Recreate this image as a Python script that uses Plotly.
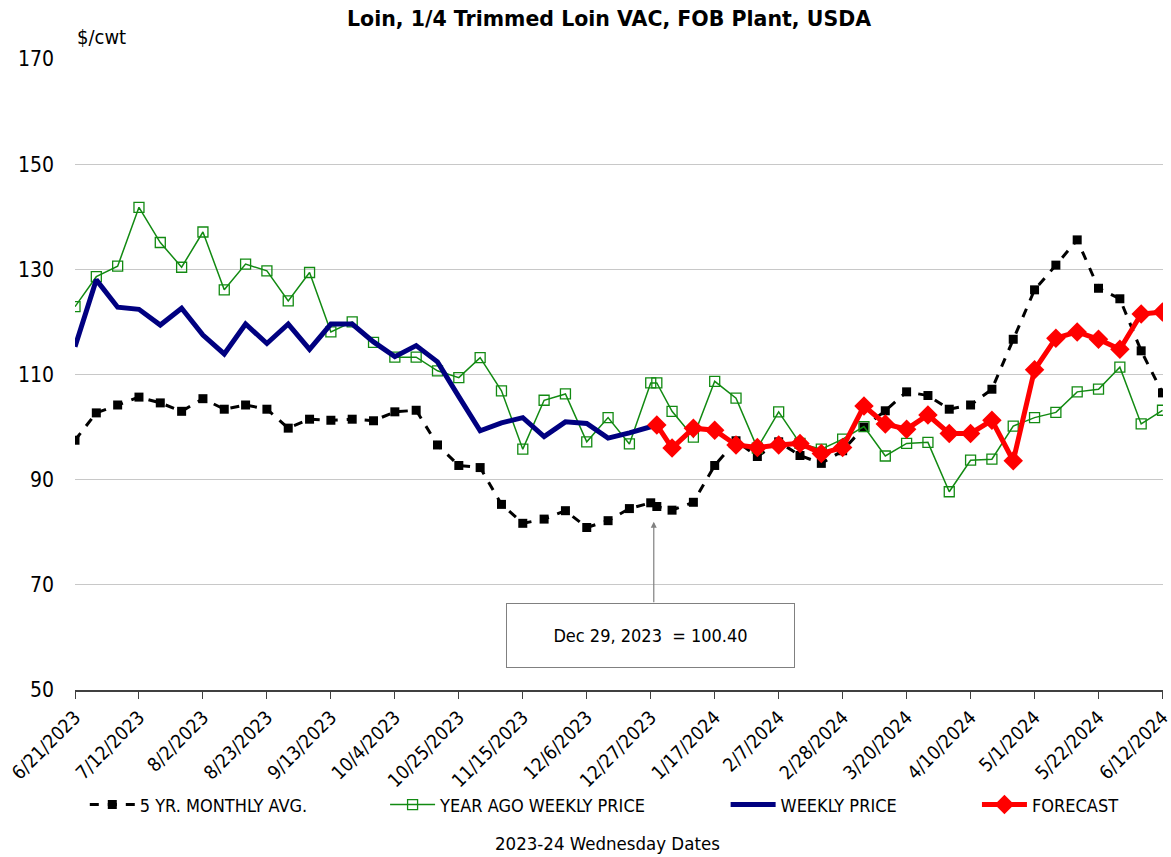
import plotly.graph_objects as go

# Wednesday dates (plus the Dec 29, 2023 snapshot point)
dates = [
    "2023-06-21", "2023-06-28", "2023-07-05", "2023-07-12", "2023-07-19", "2023-07-26",
    "2023-08-02", "2023-08-09", "2023-08-16", "2023-08-23", "2023-08-30", "2023-09-06",
    "2023-09-13", "2023-09-20", "2023-09-27", "2023-10-04", "2023-10-11", "2023-10-18",
    "2023-10-25", "2023-11-01", "2023-11-08", "2023-11-15", "2023-11-22", "2023-11-29",
    "2023-12-06", "2023-12-13", "2023-12-20", "2023-12-27", "2023-12-29",
    "2024-01-03", "2024-01-10", "2024-01-17", "2024-01-24", "2024-01-31", "2024-02-07",
    "2024-02-14", "2024-02-21", "2024-02-28", "2024-03-06", "2024-03-13", "2024-03-20",
    "2024-03-27", "2024-04-03", "2024-04-10", "2024-04-17", "2024-04-24", "2024-05-01",
    "2024-05-08", "2024-05-15", "2024-05-22", "2024-05-29", "2024-06-05", "2024-06-12",
]

five_yr_avg = [
    97.5, 102.7, 104.2, 105.7, 104.6, 103.0, 105.4, 103.4, 104.2, 103.4, 99.8, 101.5,
    101.3, 101.5, 101.2, 102.9, 103.2, 96.6, 92.7, 92.3, 85.3, 81.7, 82.5, 84.1,
    80.9, 82.2, 84.5, 85.6, 84.9,
    84.2, 85.7, 92.7, 97.4, 94.4, 97.2, 94.6, 93.1, 95.5, 100.0, 103.1, 106.7,
    106.0, 103.4, 104.2, 107.2, 116.7, 126.1, 130.8, 135.6, 126.4, 124.4, 114.5, 106.5,
]

year_ago = [
    122.9, 128.6, 130.6, 141.8, 135.1, 130.4, 137.1, 126.1, 131.0, 129.7, 124.0, 129.4,
    118.1, 120.0, 116.1, 113.3, 113.3, 110.7, 109.4, 113.2, 106.9, 95.8, 105.1, 106.3,
    97.2, 101.8, 96.8, 108.4, 108.4,
    103.0, 98.1, 108.7, 105.5, 96.0, 102.9, 96.9, 95.8, 97.7, 100.1, 94.5, 96.9,
    97.1, 87.7, 93.7, 93.9, 100.2, 101.8, 102.8, 106.7, 107.2, 111.4, 100.6, 103.2,
]

weekly_price = [
    115.3, 128.0, 122.8, 122.4, 119.4, 122.6, 117.5, 113.9, 119.6, 115.9, 119.6, 114.8,
    119.6, 119.6, 116.2, 113.4, 115.5, 112.4, 105.8, 99.3, 100.8, 101.8, 98.2, 101.0,
    100.7, 97.9, 98.9, None, 100.4,
] + [None] * 24

forecast = [None] * 28 + [
    100.4,
    96.0, 99.8, 99.4, 96.6, 96.1, 96.6, 96.9, 95.0, 96.1, 104.0, 100.6, 99.6,
    102.3, 98.8, 98.8, 101.3, 93.6, 110.9, 116.9, 118.1, 116.7, 114.8, 121.5, 121.9,
]

FONT = "DejaVu Sans Condensed, DejaVu Sans, sans-serif"
BOLD_FONT = "DejaVu Sans, sans-serif"

fig = go.Figure()
fig.add_trace(go.Scatter(
    x=dates, y=five_yr_avg, name="5 YR. MONTHLY AVG.", mode="lines+markers",
    line=dict(color="black", width=3, dash="dash"),
    marker=dict(symbol="square", size=9, color="black"),
    legend="legend",
))
fig.add_trace(go.Scatter(
    x=dates, y=year_ago, name="YEAR AGO WEEKLY PRICE", mode="lines+markers",
    line=dict(color="#128a12", width=1.5),
    marker=dict(symbol="square-open", size=10, color="#128a12", line=dict(width=1.3)),
    legend="legend2",
))
fig.add_trace(go.Scatter(
    x=dates, y=weekly_price, name="WEEKLY PRICE", mode="lines", connectgaps=True,
    line=dict(color="#000080", width=5),
    legend="legend3",
))
fig.add_trace(go.Scatter(
    x=dates, y=forecast, name="FORECAST", mode="lines+markers",
    line=dict(color="#ff0000", width=5),
    marker=dict(symbol="diamond", size=15, color="#ff0000"),
    legend="legend4",
))

leg_common = dict(orientation="h", yanchor="middle", y=-0.182, xanchor="left",
                  font=dict(family=FONT, size=18, color="black"),
                  bgcolor="rgba(0,0,0,0)", itemwidth=45)
fig.update_layout(
    width=1171, height=857,
    margin=dict(l=75, r=8, t=59, b=167, autoexpand=False),
    plot_bgcolor="white", paper_bgcolor="white",
    font=dict(family=FONT, color="black"),
    showlegend=True,
    legend=dict(x=0.009, **leg_common),
    legend2=dict(x=0.285, **leg_common),
    legend3=dict(x=0.598, **leg_common),
    legend4=dict(x=0.829, **leg_common),
    xaxis=dict(
        type="date", range=["2023-06-21", "2024-06-12 04:00"],
        tick0="2023-06-21", dtick=21 * 86400000, tickformat="%-m/%-d/%Y",
        tickangle=-45, ticks="outside", ticklen=7, tickcolor="#404040",
        showline=True, linecolor="#404040", linewidth=1.5,
        showgrid=False, zeroline=False, automargin=False,
        ticklabeloverflow="allow",
        tickfont=dict(family=FONT, size=19, color="black"),
    ),
    yaxis=dict(
        range=[50, 170], dtick=20, tick0=50,
        showgrid=True, gridcolor="#c8c8c8", gridwidth=1.2,
        showline=False, zeroline=False, ticks="", automargin=False,
        tickfont=dict(family=FONT, size=21, color="black"),
        ticklabelstandoff=20,
    ),
    annotations=[
        dict(text="<b>Loin, 1/4 Trimmed Loin VAC, FOB Plant, USDA</b>",
             xref="paper", yref="paper", x=(609 - 75) / 1088, y=(690 - 19) / 631,
             xanchor="center", yanchor="middle", showarrow=False,
             font=dict(family=BOLD_FONT, size=20.5, color="black")),
        dict(text="$/cwt", xref="paper", yref="paper", x=0.0, y=(690 - 37) / 631,
             xanchor="left", yanchor="middle", showarrow=False,
             font=dict(family=FONT, size=20, color="black")),
        dict(text="2023-24 Wednesday Dates", xref="paper", yref="paper",
             x=(607 - 75) / 1088, y=(690 - 843) / 631,
             xanchor="center", yanchor="middle", showarrow=False,
             font=dict(family=FONT, size=18.5, color="black")),
        dict(text="", x="2023-12-28", y=82, ax=0, ay=82, axref="pixel", ayref="pixel",
             showarrow=True, arrowhead=2, arrowsize=1, arrowwidth=1.2,
             arrowcolor="#808080"),
        dict(text="Dec 29, 2023  = 100.40", x="2023-12-27", y=60.3,
             xanchor="center", yanchor="middle", showarrow=False,
             width=285, height=61, align="center", valign="middle",
             bordercolor="#808080", borderwidth=1, bgcolor="white",
             font=dict(family=FONT, size=18, color="black")),
    ],
)

fig.write_html("out.html", config={"displayModeBar": False},
               post_script="document.body.style.margin='0';")
